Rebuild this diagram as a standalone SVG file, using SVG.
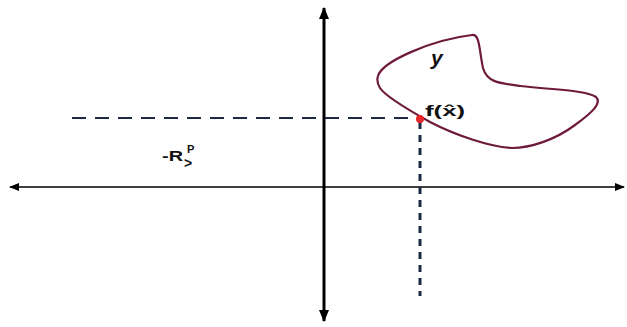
<svg xmlns="http://www.w3.org/2000/svg" width="627" height="327" viewBox="0 0 627 327">
<style>
.lbl{font-family:"Liberation Sans",Arial,sans-serif;font-weight:bold;fill:#111}
.dash{stroke:#1c2a44;fill:none}
</style>
<defs>
<marker id="ah" markerWidth="10" markerHeight="8" refX="9" refY="4" orient="auto" markerUnits="userSpaceOnUse">
<path d="M0,0 L10,4 L0,8 Z" fill="#000"/>
</marker>
<marker id="av" markerWidth="12" markerHeight="10" refX="11" refY="5" orient="auto" markerUnits="userSpaceOnUse">
<path d="M0,0 L12,5 L0,10 Z" fill="#000"/>
</marker>
</defs>
<rect width="627" height="327" fill="#fff"/>
<g id="connectors">
<line x1="316" y1="187" x2="10" y2="187" stroke="#000" stroke-width="1.6" marker-end="url(#ah)"/>
<line x1="316" y1="187" x2="624" y2="187" stroke="#000" stroke-width="1.6" marker-end="url(#ah)"/>
<line x1="324" y1="187" x2="324" y2="8" stroke="#000" stroke-width="3" marker-end="url(#av)"/>
<line x1="324" y1="187" x2="324" y2="321" stroke="#000" stroke-width="3" marker-end="url(#av)"/>
<line class="dash" x1="72" y1="118" x2="418" y2="118" stroke-width="1.8" stroke-dasharray="14 9"/>
<line class="dash" x1="420" y1="122" x2="420" y2="296" stroke-width="3" stroke-dasharray="7 6"/>
</g>
<g id="set-y">
<path d="M378,76 C382,62 430,40 472,35 C480,34 479,50 483,68 C487,82 498,83 520,86 C555,90 585,90 596,97 C602,103 593,112 575,125 C555,140 530,148 512,148 C490,147 455,135 430,122 C405,108 385,96 380,88 C377,83 377,79 378,76 Z" fill="none" stroke="#6e1a3c" stroke-width="2.2"/>
<text class="lbl" x="431" y="65" font-size="21" font-style="italic" font-family="Liberation Serif,serif">y</text>
</g>
<g id="point-fx">
<circle cx="420" cy="119" r="4" fill="#e8262a"/>
<text class="lbl" x="425" y="116" font-size="15" textLength="40" lengthAdjust="spacingAndGlyphs">f(x&#x302;)</text>
</g>
<g id="label-r">
<text class="lbl" x="162" y="161" font-size="15" textLength="21" lengthAdjust="spacingAndGlyphs">-R</text>
<text class="lbl" x="187" y="153" font-size="11">P</text>
<text class="lbl" x="184" y="168" font-size="14">&gt;</text>
</g>
</svg>
